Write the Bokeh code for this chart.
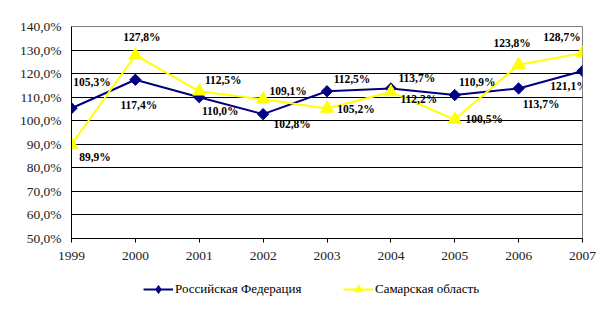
import math
from bokeh.plotting import figure
from bokeh.layouts import column
from bokeh.models import Range1d, FixedTicker, Legend, LegendItem, ColumnDataSource
from bokeh.core.properties import value
from bokeh.embed import file_html
from bokeh.resources import INLINE

years = [1999, 2000, 2001, 2002, 2003, 2004, 2005, 2006, 2007]
russia = [105.3, 117.4, 110.0, 102.8, 112.5, 113.7, 110.9, 113.7, 121.1]
samara = [89.9, 127.8, 112.5, 109.1, 105.2, 112.2, 100.5, 123.8, 128.7]
y_ticks = [50, 60, 70, 80, 90, 100, 110, 120, 130, 140]
series_names = ["Российская Федерация", "Самарская область"]

# label offsets in screen pixels (layout only)
russia_dx = [20.5, 3.5, 21, 29, 25, 26, 22.5, 22.5, -13.5]
russia_dy = [-26, 25, 14, 10, -12, -10, -13.5, 16, 14.5]
samara_dx = [23.5, 6.5, 24, 25, 29, 28, 29.5, -6.5, -20.5]
samara_dy = [12, -18, -11, -8, 1, 7, -1, -22, -16.5]

def fmt(v):
    return f"{v:.1f}%".replace(".", ",")

FONT = "Liberation Serif"
NAVY = "#000080"
YELLOW = "#FFFF00"

p = figure(width=604, height=268, output_backend="svg", toolbar_location=None,
           x_range=Range1d(1999, 2007), y_range=Range1d(50, 140),
           frame_width=511, frame_height=212,
           min_border_left=71, min_border_right=22, min_border_top=26, min_border_bottom=30)
p.background_fill_color = "white"
p.border_fill_color = "white"
p.outline_line_color = "#808080"
p.outline_line_width = 1

p.xgrid.visible = False
p.ygrid.ticker = FixedTicker(ticks=y_ticks)
p.ygrid.grid_line_color = "black"
p.ygrid.grid_line_width = 1

p.xaxis.ticker = FixedTicker(ticks=years)
p.yaxis.ticker = FixedTicker(ticks=y_ticks)
p.yaxis.major_label_overrides = {t: fmt(t) for t in y_ticks}
for ax in (p.xaxis[0], p.yaxis[0]):
    ax.axis_line_color = "black"
    ax.axis_line_width = 1
    ax.major_tick_line_color = "black"
    ax.minor_tick_line_color = None
    ax.major_label_text_font = FONT
    ax.major_label_text_font_size = "13.5px"
    ax.major_label_text_color = "#222222"
p.yaxis.major_tick_out = 0
p.yaxis.major_tick_in = 0
p.yaxis.major_label_standoff = 10
p.xaxis.major_tick_out = 4
p.xaxis.major_tick_in = 0
p.xaxis.major_label_standoff = 9

p.line(years, russia, line_color=NAVY, line_width=2)
p.scatter(years, russia, marker="square", angle=math.pi / 4, size=8,
          fill_color=NAVY, line_color=NAVY)
p.line(years, samara, line_color=YELLOW, line_width=2)
p.scatter(years, samara, marker="triangle", size=13,
          fill_color=YELLOW, line_color=YELLOW)

for vals, dx, dy in ((russia, russia_dx, russia_dy), (samara, samara_dx, samara_dy)):
    src = ColumnDataSource(dict(x=years, y=vals, t=[fmt(v) for v in vals], dx=dx, dy=dy))
    p.text(x="x", y="y", text="t", x_offset="dx", y_offset="dy", source=src,
           text_font=value(FONT), text_font_size="11.5px", text_font_style="bold",
           text_color="black", text_align="center", text_baseline="middle")

# legend strip below the chart (series drawn out of view; only the legend shows)
lf = figure(width=604, height=56, output_backend="svg", toolbar_location=None,
            x_axis_type=None, y_axis_type=None,
            x_range=Range1d(0, 1), y_range=Range1d(0, 1),
            min_border_left=0, min_border_right=0, min_border_top=0, min_border_bottom=0)
lf.outline_line_color = None
lf.xgrid.visible = False
lf.ygrid.visible = False
lr1 = lf.line(years, russia, line_color=NAVY, line_width=2)
lm1 = lf.scatter(years, russia, marker="diamond", size=12,
                 fill_color=NAVY, line_color=NAVY)
lr2 = lf.line(years, samara, line_color=YELLOW, line_width=2)
lm2 = lf.scatter(years, samara, marker="triangle", size=13,
                 fill_color=YELLOW, line_color=YELLOW)

for name, rends, lx in ((series_names[0], [lr1, lm1], 72),
                        (series_names[1], [lr2, lm2], 272)):
    leg = Legend(items=[LegendItem(label=name, renderers=rends)],
                 location=(lx, 25), orientation="horizontal",
                 padding=0, margin=0, glyph_width=30, glyph_height=20,
                 label_standoff=2, border_line_alpha=0, background_fill_alpha=0,
                 label_text_font=FONT, label_text_font_size="13px",
                 label_text_color="black")
    lf.add_layout(leg, "center")

layout = column(p, lf, spacing=0)
open("out.html", "w").write(file_html(layout, INLINE))
